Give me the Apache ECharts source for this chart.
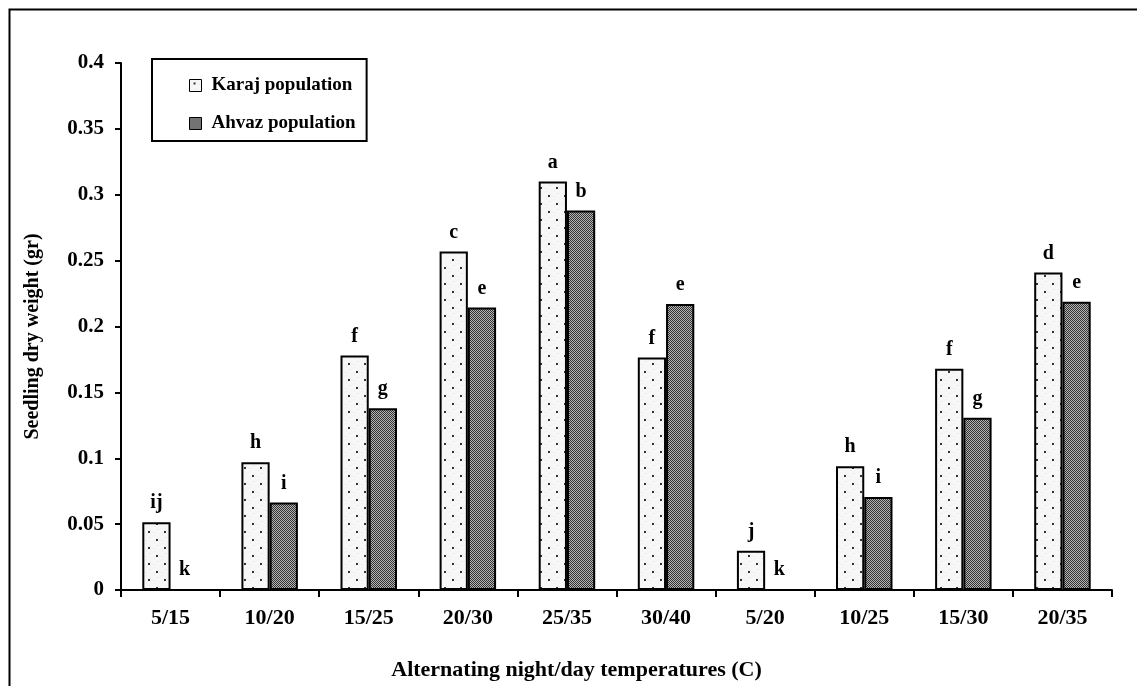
<!DOCTYPE html>
<html>
<head>
<meta charset="utf-8">
<script src="https://cdn.jsdelivr.net/npm/echarts@6/dist/echarts.min.js"></script>
<style>
html,body{margin:0;padding:0;background:#fff;}
#chart{width:1137px;height:686px;}
</style>
</head>
<body>
<div id="chart"></div>
<script>
// ---- data ----
const categories = ['5/15','10/20','15/25','20/30','25/35','30/40','5/20','10/25','15/30','20/35'];
const karajValues = [0.0515,0.097,0.178,0.257,0.310,0.1765,0.0298,0.094,0.168,0.241];
const ahvazValues = [0,0.0665,0.138,0.2145,0.288,0.217,0,0.0706,0.1307,0.2187];
const karajLetters = ['ij','h','f','c','a','f','j','h','f','d'];
const ahvazLetters = ['k','i','g','e','b','e','k','i','g','e'];
const seriesNames = ['Karaj population','Ahvaz population'];
const yTicks = { min: 0, max: 0.4, interval: 0.05 };

// ---- fill patterns ----
function dotPattern(){
  const c = document.createElement('canvas'); c.width = 16; c.height = 16;
  const g = c.getContext('2d');
  g.fillStyle = '#f7f7f7'; g.fillRect(0,0,16,16);
  g.fillStyle = '#e2e2e2';
  [[2,6],[6,2],[10,14],[14,10],[1,12],[9,4],[13,1],[5,9]].forEach(p=>g.fillRect(p[0],p[1],1,1));
  g.fillStyle = '#333';
  g.fillRect(4,3,2,2); g.fillRect(12,11,2,2);
  return c;
}
function checkPattern(){
  const c = document.createElement('canvas'); c.width = 2; c.height = 2;
  const g = c.getContext('2d');
  g.fillStyle = '#b4b4b4'; g.fillRect(0,0,2,2);
  g.fillStyle = '#333333'; g.fillRect(0,0,1,1); g.fillRect(1,1,1,1);
  return c;
}
const FONT = '"Liberation Serif","Times New Roman",serif';

const chart = echarts.init(document.getElementById('chart'));
function labelFmt(letters){ return p => letters[p.dataIndex]; }

chart.setOption({
  animation: false,
  backgroundColor: '#fff',
  graphic: [{
    type: 'rect', left: 7, top: 7, shape: { width: 1140, height: 700 },
    style: { fill: 'none', stroke: '#000', lineWidth: 2 }, silent: true
  }],
  legend: {
    orient: 'vertical', left: 152, top: 59,
    padding: [17, 11, 8, 37],
    itemGap: 19, itemWidth: 12, itemHeight: 12,
    icon: 'rect',
    borderColor: '#000', borderWidth: 2,
    textStyle: { fontFamily: FONT, fontWeight: 'bold', fontSize: 19, color: '#000', padding: [0, 0, 0, 5] },
    itemStyle: { borderColor: '#000', borderWidth: 1 },
    data: seriesNames
  },
  grid: { left: 121, right: 25, top: 63, bottom: 96, containLabel: false },
  xAxis: {
    type: 'category', data: categories, boundaryGap: true,
    axisLine: { lineStyle: { color: '#000', width: 2 } },
    axisTick: { show: true, length: 7, lineStyle: { color: '#000', width: 2 } },
    axisLabel: { fontFamily: FONT, fontWeight: 'bold', fontSize: 22, color: '#000', margin: 17 },
    name: 'Alternating night/day temperatures (C)', nameLocation: 'middle', nameGap: 69,
    nameTextStyle: { fontFamily: FONT, fontWeight: 'bold', fontSize: 22, color: '#000', padding: [0, 80, 0, 0] }
  },
  yAxis: {
    type: 'value', min: yTicks.min, max: yTicks.max, interval: yTicks.interval,
    axisLine: { show: true, lineStyle: { color: '#000', width: 2 } },
    axisTick: { show: true, length: 6, lineStyle: { color: '#000', width: 2 } },
    splitLine: { show: false },
    axisLabel: { fontFamily: FONT, fontWeight: 'bold', fontSize: 21, color: '#000', margin: 17 },
    name: 'Seedling dry weight (gr)', nameLocation: 'middle', nameGap: 78, nameRotate: 90,
    nameTextStyle: { fontFamily: FONT, fontWeight: 'bold', fontSize: 20, color: '#000', padding: [0, 20, 0, 0] }
  },
  series: [
    {
      name: seriesNames[0], type: 'bar', data: karajValues,
      barGap: '0%', barCategoryGap: '43%',
      itemStyle: { color: { image: dotPattern(), repeat: 'repeat' }, borderColor: '#000', borderWidth: 2 },
      label: { show: true, position: 'top', distance: 9, formatter: labelFmt(karajLetters),
        fontFamily: FONT, fontWeight: 'bold', fontSize: 20, color: '#000' }
    },
    {
      name: seriesNames[1], type: 'bar', data: ahvazValues,
      barGap: '0%', barCategoryGap: '43%',
      itemStyle: { color: { image: checkPattern(), repeat: 'repeat' }, borderColor: '#000', borderWidth: 2 },
      label: { show: true, position: 'top', distance: 9, formatter: labelFmt(ahvazLetters),
        fontFamily: FONT, fontWeight: 'bold', fontSize: 20, color: '#000' }
    }
  ]
});
</script>
</body>
</html>
